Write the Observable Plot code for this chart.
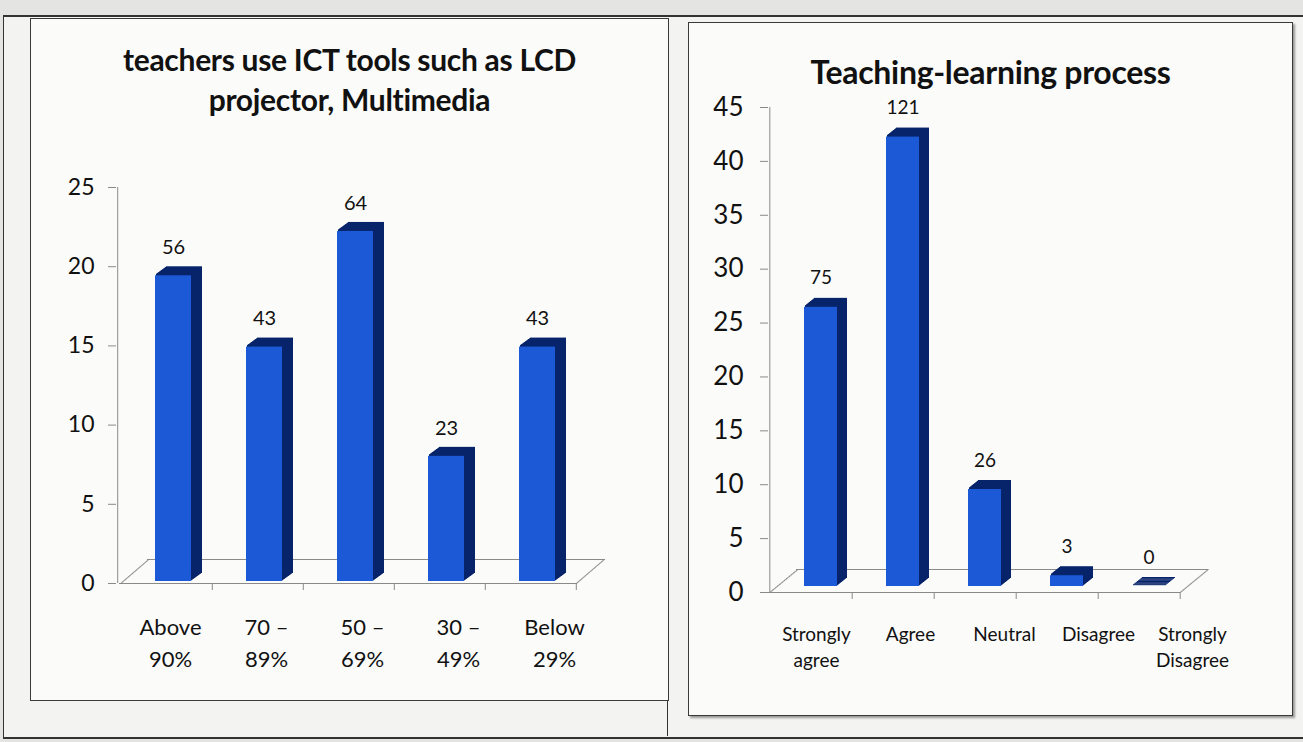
<!DOCTYPE html>
<html>
<head>
<meta charset="utf-8">
<script src="https://cdn.jsdelivr.net/npm/d3@7"></script>
<script src="https://cdn.jsdelivr.net/npm/@observablehq/plot@0.6"></script>
<style>
  html, body { margin: 0; padding: 0; }
  body { width: 1303px; height: 742px; background: #e4e4e2; position: relative; overflow: hidden; font-family: Lato, "Open Sans", sans-serif; }
  .outer { position: absolute; left: 3px; top: 15px; width: 1320px; height: 720px; border-left: 1.5px solid #333; border-top: 2px solid #333; border-bottom: 2px solid #333; background: #f3f3f1; }
  .divider { position: absolute; left: 667px; top: 640px; width: 0; height: 96px; border-left: 1.2px solid #333; }
  .panel { position: absolute; background: #fbfbf9; border: 1.5px solid #3a3a3a; }
  .title { position: absolute; left: 0; right: 0; text-align: center; font-weight: 700; color: #111; }
  .abs { position: absolute; }
</style>
</head>
<body>
<div class="outer"></div>
<div class="divider"></div>
<div class="panel" id="p1" style="left:30px; top:18px; width:637px; height:681px;">
  <div class="title" style="top:20px; font-size:30px; line-height:40px; letter-spacing:-0.3px;">teachers use ICT tools such as LCD<br>projector, Multimedia</div>
</div>
<div class="panel" id="p2" style="left:688px; top:22px; width:603px; height:692px; box-shadow: 2px 2px 2px #999;">
  <div class="title" style="top:30px; font-size:32px; line-height:38px; letter-spacing:-0.3px;">Teaching-learning process</div>
</div>
<div id="charts"></div>
<script>
// ---- Chart 1: teachers use ICT tools ----
const cats1 = ["Above 90%", "70 – 89%", "50 – 69%", "30 – 49%", "Below 29%"];
const tickLabels1 = ["Above\n90%", "70 –\n89%", "50 –\n69%", "30 –\n49%", "Below\n29%"];
const values1 = [19.3, 14.8, 22.1, 7.9, 14.8];
const counts1 = [56, 43, 64, 23, 43];
const yTicks1 = [0, 5, 10, 15, 20, 25];

// ---- Chart 2: Teaching-learning process ----
const cats2 = ["Strongly agree", "Agree", "Neutral", "Disagree", "Strongly Disagree"];
const tickLabels2 = ["Strongly\nagree", "Agree", "Neutral", "Disagree", "Strongly\nDisagree"];
const values2 = [25.9, 41.7, 9.0, 1.0, 0];
const counts2 = [75, 121, 26, 3, 0];
const yTicks2 = [0, 5, 10, 15, 20, 25, 30, 35, 40, 45];

const FRONT = "#1b59d6";
const DARK = "#07246a";
const GRID = "#8a8a8a";

function chart(cfg) {
  const data = cfg.cats.map((c, i) => ({cat: c, label: cfg.labels[i], v: cfg.values[i], n: cfg.counts[i]}));
  const W = cfg.width - cfg.mL - cfg.mR;
  const step = W / cfg.cats.length;
  const ymax = cfg.yTicks[cfg.yTicks.length - 1];
  const marks = [];
  // floor: front and back edges
  marks.push(Plot.ruleY([0], {stroke: GRID, strokeWidth: 1}));
  marks.push(Plot.ruleY([0], {stroke: GRID, strokeWidth: 1, dx: cfg.fdx, dy: cfg.fdy}));
  // floor side edges (diagonals)
  const N = 40;
  for (let k = 0; k <= N; k++) {
    const ox = cfg.fdx * k / N, oy = cfg.fdy * k / N;
    marks.push(Plot.dot([cfg.cats[0]], {x: d => d, y: () => 0, r: 0.6, fill: GRID, stroke: null, dx: -step / 2 + ox, dy: oy}));
    marks.push(Plot.dot([cfg.cats[cfg.cats.length - 1]], {x: d => d, y: () => 0, r: 0.6, fill: GRID, stroke: null, dx: step / 2 + ox, dy: oy}));
  }
  // y axis line
  marks.push(Plot.ruleX([cfg.cats[0]], {x: d => d, y1: 0, y2: ymax, dx: -step / 2 - cfg.axOff, stroke: GRID}));
  marks.push(Plot.axisY({ticks: cfg.yTicks, label: null, tickSize: 8, tickPadding: cfg.tickPad, fontSize: cfg.yFont, stroke: GRID, fill: "#111", dx: -cfg.axOff, tickFormat: d => String(d)}));
  // category boundary ticks below floor
  marks.push(Plot.axisX({ticks: cfg.cats, label: null, tickSize: 7, tickFormat: () => "", stroke: GRID, dx: step / 2}));
  // 3D extrusion of bars (side + top faces)
  const D = cfg.bdx;
  for (let k = 1; k <= D; k++) {
    marks.push(Plot.barY(data, {x: "cat", y: "v", fill: DARK, insetTop: -1, dx: cfg.bx + k, dy: cfg.by - k * cfg.bdy / D}));
  }
  // front face
  marks.push(Plot.barY(data, {x: "cat", y: "v", fill: FRONT, dx: cfg.bx, dy: cfg.by}));
  // value labels
  marks.push(Plot.text(data, {x: "cat", y: "v", text: d => String(d.n), dx: cfg.bx, dy: cfg.by + cfg.ly, fontSize: cfg.vFont, fill: "#111"}));

  const main = Plot.plot({
    width: cfg.width, height: cfg.height,
    marginLeft: cfg.mL, marginRight: cfg.mR, marginTop: cfg.mT, marginBottom: cfg.mB,
    style: {background: "transparent", fontFamily: "Lato, 'Open Sans', sans-serif", overflow: "visible"},
    x: {domain: cfg.cats, paddingInner: 0.6, paddingOuter: 0.3, axis: null, label: null},
    y: {domain: [0, ymax], axis: null, label: null},
    marks
  });
  main.classList.add("abs");
  main.style.left = cfg.left + "px";
  main.style.top = cfg.top + "px";
  document.getElementById("charts").appendChild(main);

  // category labels along the (perspective) front edge of the floor
  const lab = Plot.plot({
    width: cfg.width, height: 80,
    marginLeft: 0, marginRight: 0, marginTop: 0, marginBottom: 0,
    style: {background: "transparent", fontFamily: "Lato, 'Open Sans', sans-serif", overflow: "visible"},
    x: {type: "point", domain: cfg.cats, range: cfg.labRange, padding: 0, axis: null, label: null},
    marks: [
      Plot.text(data, {x: "cat", text: "label", frameAnchor: "top", lineAnchor: "top", lineHeight: cfg.lh, fontSize: cfg.xFont, fill: "#111"})
    ]
  });
  lab.classList.add("abs");
  lab.style.left = cfg.left + "px";
  lab.style.top = cfg.labTop + "px";
  document.getElementById("charts").appendChild(lab);
}

chart({
  cats: cats1, labels: tickLabels1, values: values1, counts: counts1, yTicks: yTicks1,
  left: 31, top: 150, width: 636, height: 540,
  mL: 88, mR: 90, mT: 37, mB: 107,
  fdx: 28, fdy: -24, axOff: 3, tickPad: 14, yFont: 23,
  bx: 7, by: -2, bdx: 11, bdy: 8, ly: -28, vFont: 20,
  labRange: [137, 524], labTop: 612, lh: 1.45, xFont: 22
});

chart({
  cats: cats2, labels: tickLabels2, values: values2, counts: counts2, yTicks: yTicks2,
  left: 689, top: 90, width: 600, height: 600,
  mL: 79, mR: 109, mT: 17, mB: 98,
  fdx: 28, fdy: -23, axOff: 0, tickPad: 17, yFont: 26,
  bx: 10, by: -6, bdx: 10, bdy: 8, ly: -29, vFont: 19,
  labRange: [126, 503], labTop: 622, lh: 1.37, xFont: 19
});
</script>
</body>
</html>
